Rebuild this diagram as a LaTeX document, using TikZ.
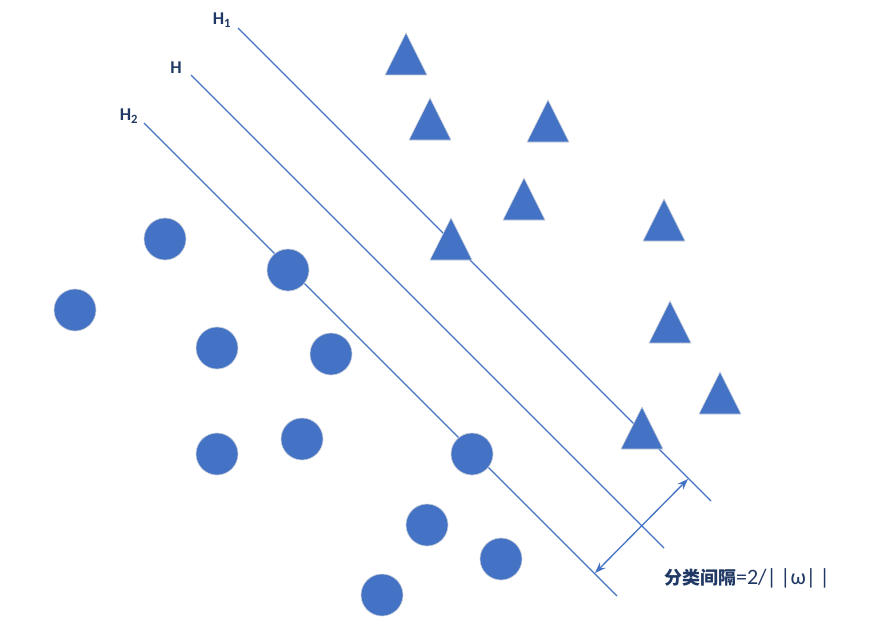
\documentclass[tikz,border=0pt]{standalone}
\usepackage{fontspec}
\setmainfont{Carlito}
\newfontfamily\cjkfont{Noto Sans CJK SC}
\usetikzlibrary{arrows.meta}
\definecolor{pt}{HTML}{4472C4}
\definecolor{edge}{HTML}{C9CFDA}
\definecolor{lbl}{HTML}{203864}
\tikzset{
  dot/.style={circle, fill=pt, draw=edge, line width=0.6pt, minimum size=42pt, inner sep=0pt},
  hyper/.style={draw=pt, line width=1.3pt},
  hlabel/.style={text=lbl, font=\fontsize{18}{19}\selectfont\bfseries, inner sep=0pt},
  gap/.style={draw=pt, line width=1.3pt, {Stealth[length=11pt,width=8pt]}-{Stealth[length=11pt,width=8pt]}},
  tri/.style={fill=pt, draw=edge, line width=0.6pt}
}
\newcommand{\tripath}[2]{\filldraw[tri] (#1,#2) -- ++(21,42) -- ++(-42,0) -- cycle;}
\begin{document}
\begin{tikzpicture}[x=1pt,y=-1pt]
\useasboundingbox (0,0) rectangle (876,618);
\fill[white] (0,0) rectangle (876,618);
% hyperplanes
\coordinate (h1s) at (238,28);  \coordinate (h1e) at (711,501);
\coordinate (hs)  at (191,75);  \coordinate (he)  at (664,548);
\coordinate (h2s) at (144,123); \coordinate (h2e) at (617,596);
\draw[hyper] (h1s) -- (h1e);
\draw[hyper] (hs) -- (he);
\draw[hyper] (h2s) -- (h2e);
\node[hlabel] (lh1) at (222,20) {H\textsubscript{1}};
\node[hlabel] (lh)  at (176,68) {H};
\node[hlabel] (lh2) at (129,116) {H\textsubscript{2}};
% margin arrow
\coordinate (g1) at (595,573);
\coordinate (g2) at (688,479);
\draw[gap] (g1) -- (g2);
\node[text=lbl, inner sep=0pt] (glabel) at (747,578) {{\cjkfont\fontsize{18}{20}\selectfont\bfseries 分类间隔}{\fontsize{22}{22}\selectfont =2/|\,|ω|\,|}};
% triangles
\tripath{406}{33}
\tripath{430}{98}
\tripath{548}{100}
\tripath{524}{178}
\tripath{451}{218}
\tripath{664}{199}
\tripath{670}{301}
\tripath{720}{372}
\tripath{642}{407}
% circles
\node[dot] (c1) at (165,239) {};
\node[dot] (c2) at (75,310) {};
\node[dot] (c3) at (288,270) {};
\node[dot] (c4) at (217,348) {};
\node[dot] (c5) at (331,354) {};
\node[dot] (c6) at (217,454) {};
\node[dot] (c7) at (302,439) {};
\node[dot] (c8) at (472,454) {};
\node[dot] (c9) at (427,525) {};
\node[dot] (c10) at (501,559) {};
\node[dot] (c11) at (382,595) {};
\end{tikzpicture}
\end{document}
